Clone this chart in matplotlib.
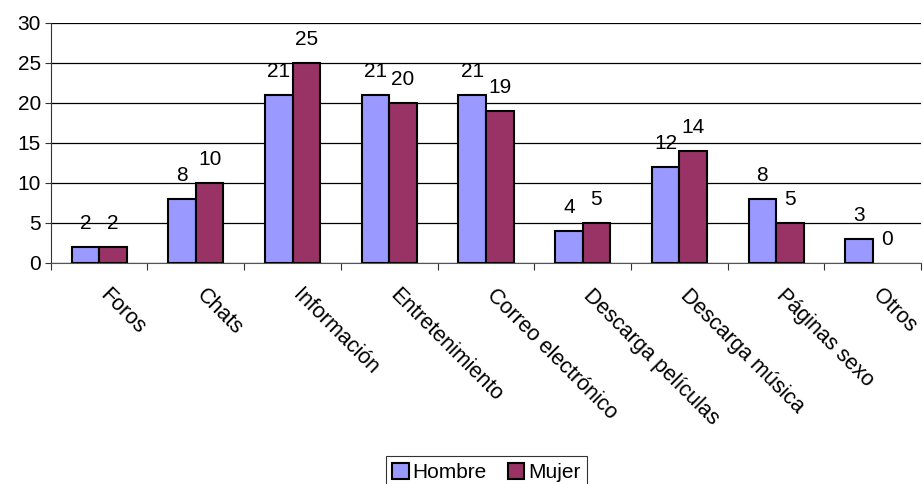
import numpy as np
import matplotlib.pyplot as plt
from matplotlib.patches import Patch
from matplotlib.transforms import ScaledTranslation

plt.rcParams['font.family'] = ['Liberation Sans', 'DejaVu Sans']

categorias = ["Foros", "Chats", "Información", "Entretenimiento", "Correo electrónico",
              "Descarga películas", "Descarga música", "Páginas sexo", "Otros"]
hombre = [2, 8, 21, 21, 21, 4, 12, 8, 3]
mujer = [2, 10, 25, 20, 19, 5, 14, 5, 0]

c_hombre = "#9999ff"
c_mujer = "#993366"
fs = 15

fig = plt.figure(figsize=(9.23, 4.84), dpi=100)
ax = fig.add_axes([0.055, 0.457, 0.943, 0.496])

x = np.arange(len(categorias))
w = 0.285
b1 = ax.bar(x - w / 2, hombre, w, color=c_hombre, edgecolor="black", linewidth=1.5, zorder=3)
b2 = ax.bar(x + w / 2, mujer, w, color=c_mujer, edgecolor="black", linewidth=1.5, zorder=3)

for bars, vals in ((b1, hombre), (b2, mujer)):
    for r, v in zip(bars, vals):
        if v == 0:
            r.set_linewidth(0)
        ax.annotate(str(v), (r.get_x() + r.get_width() / 2, v), xytext=(0, 12.5),
                    textcoords="offset points", ha="center", va="baseline", fontsize=fs)

ax.set_xlim(-0.5, len(categorias) - 0.5)
ax.set_ylim(0, 30)
ax.set_yticks(range(0, 31, 5))
ax.yaxis.grid(True, color="black", linewidth=0.9, zorder=0)
ax.tick_params(axis="y", labelsize=fs, length=4, direction="out", color="#333333", pad=3)

# ticks between categories, labels at the centres
ax.set_xticks(np.arange(-0.5, len(categorias), 1))
ax.set_xticklabels([])
ax.set_xticks(x, minor=True)
ax.set_xticklabels(categorias, minor=True, rotation=-45, ha="left", va="top",
                   rotation_mode="anchor", fontsize=15.5)
ax.tick_params(axis="x", which="major", length=5, color="#333333")
ax.tick_params(axis="x", which="minor", length=0, pad=16)
shift = ScaledTranslation(11 / 100, 0, fig.dpi_scale_trans)
for lbl in ax.get_xticklabels(minor=True):
    lbl.set_transform(lbl.get_transform() + shift)

ax.spines["top"].set_visible(False)
ax.spines["right"].set_visible(False)
ax.spines["left"].set_color("#333333")
ax.spines["bottom"].set_color("#555555")

handles = [Patch(facecolor=c_hombre, edgecolor="black", linewidth=1.5, label="Hombre"),
           Patch(facecolor=c_mujer, edgecolor="black", linewidth=1.5, label="Mujer")]
leg = fig.legend(handles=handles, loc="lower center", bbox_to_anchor=(0.527, -0.03), ncol=2,
                 fontsize=fs, frameon=True, fancybox=False, edgecolor="black",
                 handlelength=0.8, handleheight=0.8, handletextpad=0.2, columnspacing=1.0,
                 borderpad=0.3)
leg.get_frame().set_linewidth(0.8)

fig.savefig("out.png", dpi=100)
